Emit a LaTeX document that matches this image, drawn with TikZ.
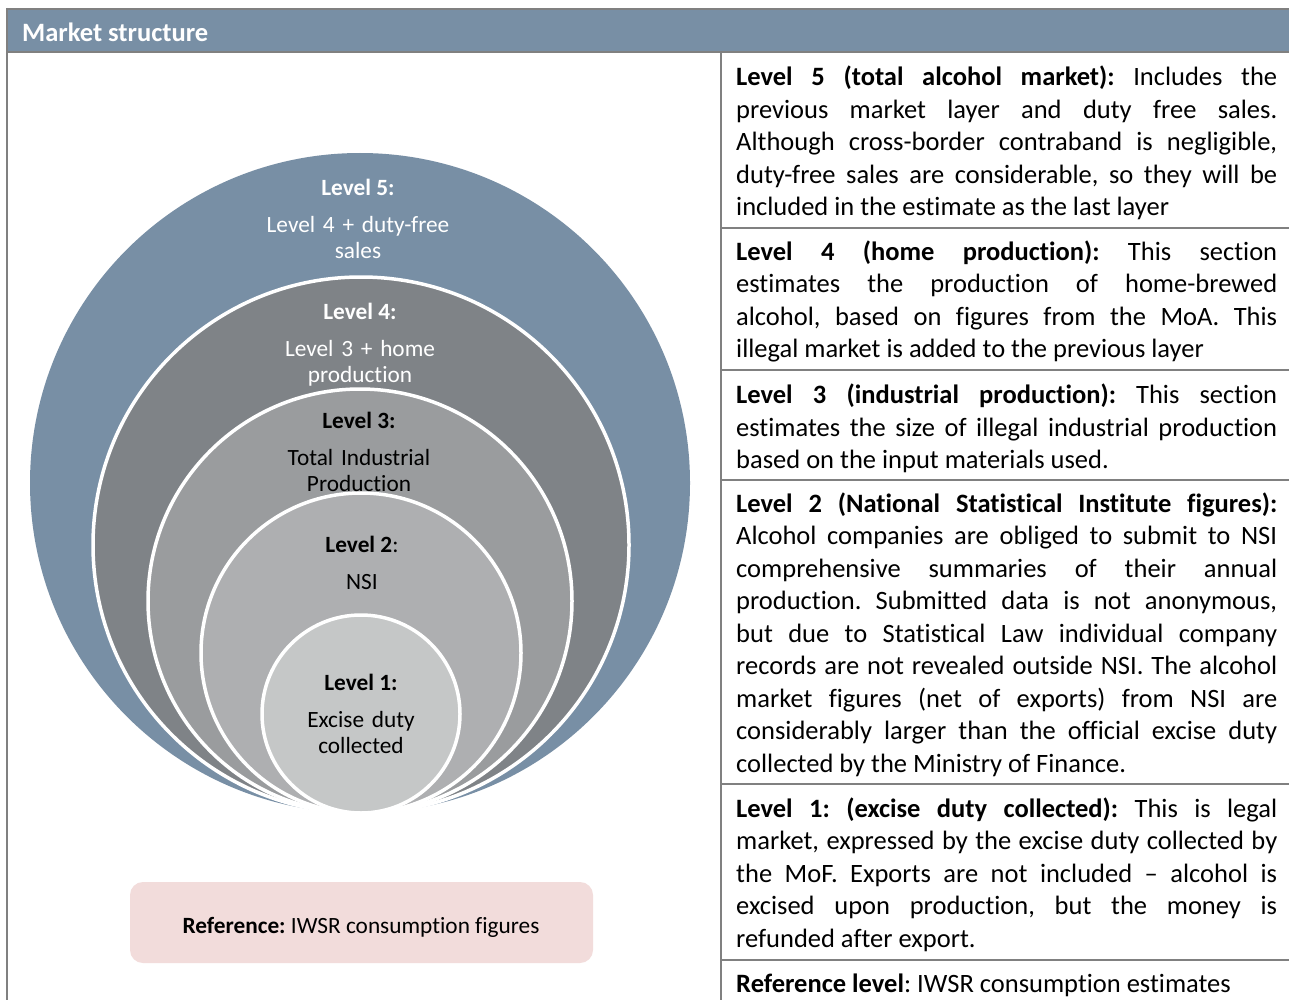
\documentclass[tikz,border=0pt]{standalone}
\usepackage{fontspec}
\setmainfont{Carlito}[Ligatures={NoCommon}]
\definecolor{steel}{RGB}{120,143,165}
\definecolor{lvfour}{RGB}{127,131,135}
\definecolor{lvthree}{RGB}{154,156,158}
\definecolor{lvtwo}{RGB}{174,175,177}
\definecolor{lvone}{RGB}{197,199,199}
\definecolor{refpink}{RGB}{242,220,219}
\definecolor{rulegray}{RGB}{128,128,128}
\hyphenpenalty=10000
\exhyphenpenalty=10000
\tolerance=9999
\frenchspacing
\begin{document}
\begin{tikzpicture}[x=1pt,y=-1pt,
  ring/.style={draw=white, line width=3.5pt},
  lvlhead/.style={anchor=base, inner sep=0pt, font=\fontsize{23.3}{26}\selectfont\bfseries},
  lvlbody/.style={anchor=base, inner sep=0pt, text width=260pt, align=center, font=\fontsize{23.3}{26}\selectfont},
  desc/.style={anchor=base west, inner sep=0pt, text width=541pt, align=justify, font=\fontsize{26.5}{32.5}\selectfont\frenchspacing},
  frameline/.style={draw=rulegray, line width=2pt}
]
\useasboundingbox (0,0) rectangle (1289,1000);
\fill[white] (0,0) rectangle (1289,1000);

% header
\fill[steel] (7,9) rectangle (1289,52);
\node[anchor=base west, inner sep=0pt, text=white, font=\fontsize{26.5}{32}\selectfont\bfseries] (title) at (22,41.5) {Market structure};

% frame lines
\draw[frameline] (7,9) -- (1289,9);
\draw[frameline] (7,52) -- (1289,52);
\draw[frameline] (7,8) -- (7,1000);
\draw[frameline] (721,52) -- (721,1000);
\draw[frameline] (721,228) -- (1289,228);
\draw[frameline] (721,370) -- (1289,370);
\draw[frameline] (721,480) -- (1289,480);
\draw[frameline] (721,784) -- (1289,784);
\draw[frameline] (721,960) -- (1289,960);

% nested circles (tangent at bottom)
\coordinate (bottom) at (360,813);
\fill[steel] (360,483) circle[radius=330pt];
\draw[ring, fill=lvfour] (361,545) circle[radius=268pt];
\draw[ring, fill=lvthree] (360,601) circle[radius=212pt];
\draw[ring, fill=lvtwo] (361,653) circle[radius=160pt];
\draw[ring, fill=lvone] (361,714) circle[radius=99pt];

% circle labels
\node[lvlhead, text=white] (h5) at (358,195.5) {Level 5:};
\node[lvlbody, text=white] (b5) at (358,232.5) {Level 4 + duty-free\\sales};
\node[lvlhead, text=white] (h4) at (360,319.5) {Level 4:};
\node[lvlbody, text=white] (b4) at (360,356.5) {Level 3 + home\\production};
\node[lvlhead] (h3) at (359,428.5) {Level 3:};
\node[lvlbody] (b3) at (359,465.5) {Total Industrial\\Production};
\node[lvlhead] (h2) at (362,552.5) {Level 2\mdseries:};
\node[lvlbody] (b2) at (362,589.5) {NSI};
\node[lvlhead] (h1) at (361,690.5) {Level 1:};
\node[lvlbody] (b1) at (361,727.5) {Excise duty\\collected};

% reference box
\node[fill=refpink, rounded corners=13pt, minimum width=463pt, minimum height=81pt, inner sep=0pt] (refbox) at (361.5,922.5) {};
\node[anchor=base, inner sep=0pt, font=\fontsize{23.3}{26}\selectfont\frenchspacing] (reftext) at (361,933) {\textbf{Reference:} IWSR consumption figures};

% descriptions
\node[desc] (d5) at (736,86) {\textbf{Level 5 (total alcohol market):} Includes the\linebreak previous market layer and duty free sales.\linebreak Although cross-border contraband is negligible,\linebreak duty-free sales are considerable, so they will be\linebreak included in the estimate as the last layer};
\node[desc] (d4) at (736,260) {\textbf{Level 4 (home production):} This section\linebreak estimates the production of home-brewed\linebreak alcohol, based on figures from the MoA. This\linebreak illegal market is added to the previous layer};
\node[desc] (d3) at (736,403.5) {\textbf{Level 3 (industrial production):} This section\linebreak estimates the size of illegal industrial production\linebreak based on the input materials used.};
\node[desc] (d2) at (736,512) {\textbf{Level 2 (National Statistical Institute figures):}\linebreak Alcohol companies are obliged to submit to NSI\linebreak comprehensive summaries of their annual\linebreak production. Submitted data is not anonymous,\linebreak but due to Statistical Law individual company\linebreak records are not revealed outside NSI. The alcohol\linebreak market figures (net of exports) from NSI are\linebreak considerably larger than the official excise duty\linebreak collected by the Ministry of Finance.};
\node[desc] (d1) at (736,817) {\textbf{Level 1: (excise duty collected):} This is legal\linebreak market, expressed by the excise duty collected by\linebreak the MoF. Exports are not included – alcohol is\linebreak excised upon production, but the money is\linebreak refunded after export.};
\node[desc] (dref) at (736,992) {\textbf{Reference level}: IWSR consumption estimates};
\end{tikzpicture}
\end{document}
